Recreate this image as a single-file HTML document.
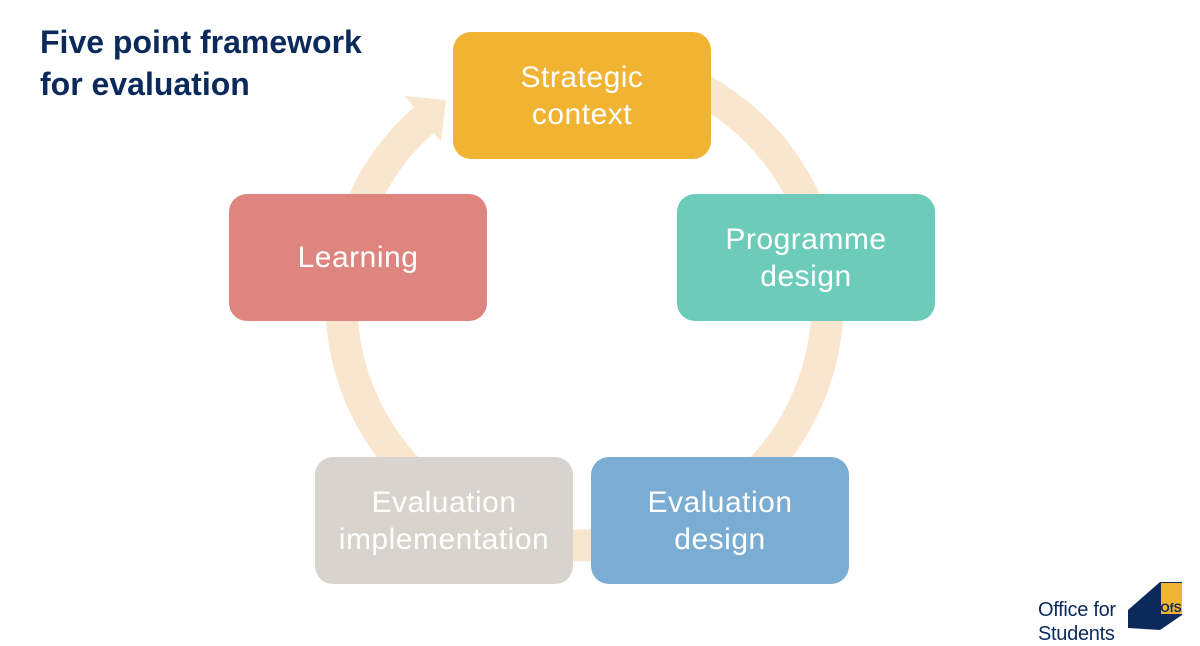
<!DOCTYPE html>
<html><head><meta charset="utf-8"><style>
body{margin:0;width:1200px;height:630px;overflow:hidden;background:#fff;font-family:"Liberation Sans",sans-serif;position:relative}
.t{position:absolute;left:40px;top:21px;color:#0B2A5B;font-weight:bold;font-size:32px;line-height:42px}
.b{position:absolute;border-radius:18px;color:#fff;font-size:30px;letter-spacing:0.5px;line-height:37px;display:flex;align-items:center;justify-content:center;text-align:center;width:258px;height:127px}
.lg{position:absolute;left:1038px;top:598px;color:#0B2A5B;font-size:20px;line-height:24px;letter-spacing:-0.3px}
</style></head><body>
<svg width="1200" height="630" style="position:absolute;left:0;top:0">
<path d="M 620,62 A 243 243 0 1 1 425,119" fill="none" stroke="#FAE6CF" stroke-width="32"/>
<polygon points="405,96 446,100 441,142" fill="#FAE6CF"/>
<polygon points="1128,628 1128,610 1160,582 1160,630" fill="#0B2A5B"/>
<polygon points="1182,582 1182,615 1160,630 1160,582" fill="#0B2A5B"/>
<rect x="1161" y="583" width="21" height="31" fill="#F0B432"/>
<text x="1171" y="612" font-family="Liberation Sans" font-weight="bold" font-size="12" fill="#0B2A5B" text-anchor="middle">OfS</text>
</svg>
<div class="t">Five point framework<br>for evaluation</div>
<div class="b" style="left:453px;top:32px;background:#F0B432">Strategic<br>context</div>
<div class="b" style="left:677px;top:194px;background:#6DCBBA">Programme<br>design</div>
<div class="b" style="left:229px;top:194px;background:#DF8580">Learning</div>
<div class="b" style="left:315px;top:457px;background:#D8D3CC">Evaluation<br>implementation</div>
<div class="b" style="left:591px;top:457px;background:#7BADD3">Evaluation<br>design</div>
<div class="lg">Office for<br>Students</div>
</body></html>
